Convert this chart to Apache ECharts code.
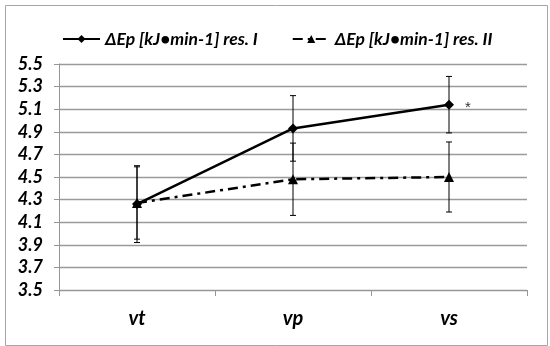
<!DOCTYPE html>
<html>
<head>
<meta charset="utf-8">
<script src="https://cdn.jsdelivr.net/npm/echarts@6/dist/echarts.min.js"></script>
<style>
html,body{margin:0;padding:0;background:#fff;}
#c{width:550px;height:346px;}
</style>
</head>
<body>
<div id="c"></div>
<script>
var categories = ['vt', 'vp', 'vs'];
var seriesNames = ['\u0394Ep [kJ\u2022min-1] res. I', '\u0394Ep [kJ\u2022min-1] res. II'];
var resI = [4.26, 4.93, 5.14];
var resIlow = [3.92, 4.64, 4.89];
var resIhigh = [4.60, 5.22, 5.39];
var resII = [4.27, 4.48, 4.50];
var resIIlow = [3.95, 4.16, 4.19];
var resIIhigh = [4.59, 4.80, 4.81];
var yTicks = [3.5, 3.7, 3.9, 4.1, 4.3, 4.5, 4.7, 4.9, 5.1, 5.3, 5.5];
var sigMarks = ['', '', '*'];

var FONT = 'Lato';
var chart = echarts.init(document.getElementById('c'), null, {renderer: 'canvas'});

function errData(low, high) {
  return categories.map(function (c, i) { return [i, low[i], high[i]]; });
}
function errRender(params, api) {
  var x = api.value(0);
  var lo = api.coord([x, api.value(1)]);
  var hi = api.coord([x, api.value(2)]);
  var hw = 3;
  var st = {stroke: '#000', lineWidth: 1};
  return {
    type: 'group',
    children: [
      {type: 'line', shape: {x1: hi[0], y1: hi[1], x2: lo[0], y2: lo[1]}, style: st},
      {type: 'line', shape: {x1: hi[0] - hw, y1: hi[1], x2: hi[0] + hw, y2: hi[1]}, style: st},
      {type: 'line', shape: {x1: lo[0] - hw, y1: lo[1], x2: lo[0] + hw, y2: lo[1]}, style: st}
    ]
  };
}

var dataI = resI.map(function (v, i) {
  var d = {value: v};
  if (sigMarks[i]) {
    d.label = {show: true, formatter: sigMarks[i], position: 'right', offset: [6, 3],
      fontSize: 15, color: '#333', fontFamily: 'Liberation Sans'};
  }
  return d;
});

chart.setOption({
  animation: false,
  backgroundColor: '#fff',
  graphic: [{
    type: 'rect', left: 3, top: 3, silent: true,
    shape: {width: 542, height: 340},
    style: {fill: 'none', stroke: '#a6a6a6', lineWidth: 1}
  }],
  legend: {
    left: 57, top: 25,
    itemWidth: 37, itemHeight: 10, itemGap: 34,
    data: seriesNames,
    textStyle: {fontFamily: FONT, fontSize: 17.5, fontWeight: 'bold', fontStyle: 'italic', color: '#000'}
  },
  grid: {left: 59, right: 23, top: 64, bottom: 56},
  xAxis: {
    type: 'category', data: categories, boundaryGap: true,
    axisLine: {lineStyle: {color: '#969696', width: 1}},
    axisTick: {show: true, length: 6, lineStyle: {color: '#969696'}},
    axisLabel: {margin: 19, fontFamily: FONT, fontSize: 20, fontWeight: 'bold', fontStyle: 'italic', color: '#000'}
  },
  yAxis: {
    type: 'value', min: yTicks[0], max: yTicks[yTicks.length - 1], interval: 0.2,
    axisLine: {show: true, lineStyle: {color: '#969696', width: 1}},
    axisTick: {show: true, length: 5, lineStyle: {color: '#969696'}},
    splitLine: {lineStyle: {color: '#9a9a9a', width: 1.3}},
    axisLabel: {margin: 16, fontFamily: FONT, fontSize: 18, fontWeight: 'bold', fontStyle: 'italic', color: '#000',
      formatter: function (v) { return v.toFixed(1); }}
  },
  series: [
    {
      name: seriesNames[0], type: 'line', data: dataI,
      symbol: 'diamond', symbolSize: 10,
      lineStyle: {color: '#000', width: 2.5},
      itemStyle: {color: '#000'}, z: 3
    },
    {
      name: seriesNames[1], type: 'line', data: resII,
      symbol: 'triangle', symbolSize: 10,
      lineStyle: {color: '#000', width: 2.5, type: [10, 5, 3, 5]},
      itemStyle: {color: '#000'}, z: 3
    },
    {type: 'custom', renderItem: errRender, data: errData(resIlow, resIhigh), z: 2, silent: true},
    {type: 'custom', renderItem: errRender, data: errData(resIIlow, resIIhigh), z: 2, silent: true}
  ]
});
</script>
</body>
</html>
